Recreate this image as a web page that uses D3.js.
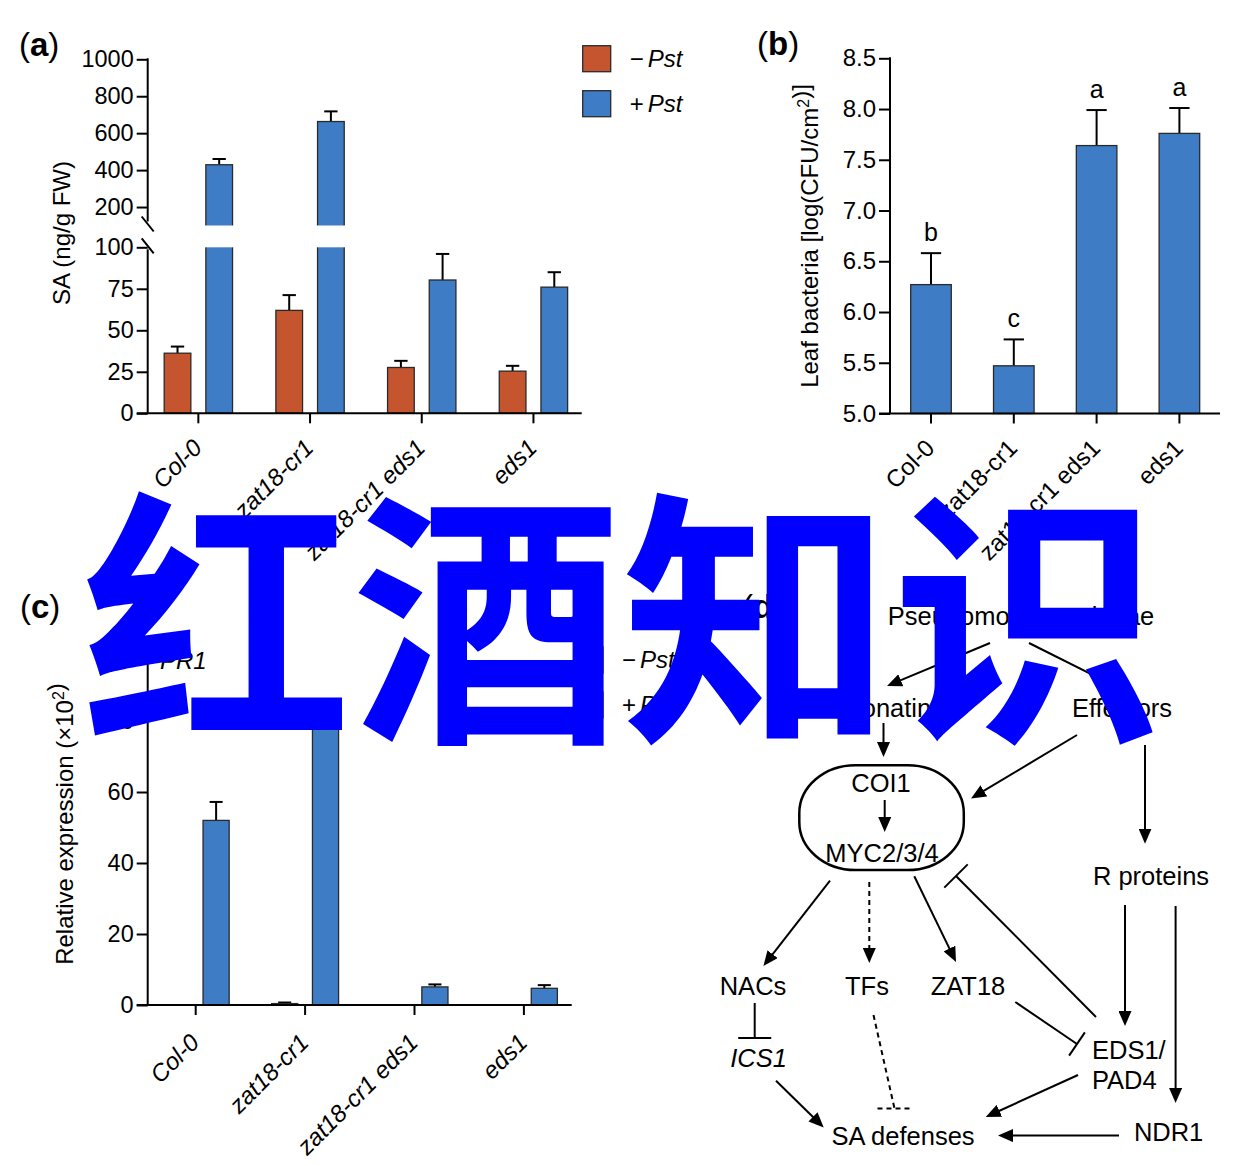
<!DOCTYPE html>
<html>
<head>
<meta charset="utf-8">
<title>SA, bacterial growth and PR1 in zat18 mutants</title>
<script src="https://cdn.jsdelivr.net/npm/d3@7"></script>
<style>
  body { margin: 0; background: #fff; }
  svg text { font-family: "Liberation Sans", Arial, Helvetica, sans-serif; fill: #000; }
</style>
</head>
<body>
<div id="fig"></div>
<script>
// genotypes shared by the three bar charts
var genotypes = ["Col-0", "zat18-cr1", "zat18-cr1 eds1", "eds1"];
var treatments = ["-Pst", "+Pst"];

// (a) SA content (ng/g FW)
var saMock = [36.2, 62, 27.6, 25.4];
var saMockErr = [4, 9.2, 4, 3.2];
var saPst = [429, 663, 80.3, 76];
var saPstErr = [31, 55, 15.7, 9];
var saTicksLow = [0, 25, 50, 75, 100];
var saTicksHigh = [200, 400, 600, 800, 1000];

// (b) leaf bacteria, log(CFU/cm2)
var bactMean = [6.27, 5.47, 7.64, 7.76];
var bactErr = [0.31, 0.26, 0.35, 0.25];
var bactLetters = ["b", "c", "a", "a"];
var bactTicks = [5.0, 5.5, 6.0, 6.5, 7.0, 7.5, 8.0, 8.5];

// (c) PR1 relative expression (x10^2)
var pr1Mock = [0, 0.4, 0, 0];
var pr1MockErr = [0, 0.3, 0, 0];
var pr1Pst = [52, 84, 5.1, 4.7];
var pr1PstErr = [5.2, 2, 0.7, 0.9];
var pr1Ticks = [0, 20, 40, 60, 80, 100];

var RED = "#C5552F", BLUE = "#3E7DC5", EDGE = "#2a2a2a";

var svg = d3.select("#fig").append("svg")
    .attr("width", 1245).attr("height", 1166);

function styleAxis(sel, size) {
    sel.attr("font-size", null).attr("font-family", null);
    sel.select(".domain").remove();
    sel.selectAll(".tick line").attr("stroke", "#000").attr("stroke-width", 2);
    sel.selectAll(".tick text").attr("font-size", size).attr("fill", "#000");
}

function vline(g, x, y1, y2) {
    g.append("line").attr("x1", x).attr("x2", x).attr("y1", y1).attr("y2", y2)
        .attr("stroke", "#000").attr("stroke-width", 2);
}
function hline(g, x1, x2, y) {
    g.append("line").attr("x1", x1).attr("x2", x2).attr("y1", y).attr("y2", y)
        .attr("stroke", "#000").attr("stroke-width", 2);
}

function errBar(g, xc, yTop, yCap, half) {
    vline(g, xc, yTop, yCap);
    hline(g, xc - half, xc + half, yCap);
}

function xAxisBottom(g, x0, axisX, y0, xEnd, dx, dy, italic) {
    hline(g, axisX - 11, xEnd, y0);
    genotypes.forEach(function (d) {
        var cx = x0(d) + x0.bandwidth() / 2;
        vline(g, cx, y0, y0 + 10);
        g.append("text")
            .attr("transform", "translate(" + (cx + dx) + "," + (y0 + dy) + ") rotate(-45)")
            .attr("text-anchor", "end")
            .attr("font-size", 24)
            .attr("font-style", italic ? "italic" : "normal")
            .text(d);
    });
}

function panelTag(x, y, letter) {
    var t = svg.append("text").attr("x", x).attr("y", y).attr("font-size", 33);
    t.append("tspan").text("(");
    t.append("tspan").attr("font-weight", "bold").text(letter);
    t.append("tspan").text(")");
}

function yTitle(x, y, parts) {
    var t = svg.append("text")
        .attr("transform", "translate(" + x + "," + y + ") rotate(-90)")
        .attr("text-anchor", "middle").attr("dy", "0.35em").attr("font-size", 24);
    parts.forEach(function (p) {
        if (p.sup) {
            t.append("tspan").attr("dy", -9).attr("font-size", 16).text(p.sup);
            t.append("tspan").attr("dy", 9).text("");
        } else {
            t.append("tspan").text(p.t);
        }
    });
}

function legend(x, y, gap) {
    [RED, BLUE].forEach(function (c, i) {
        svg.append("rect").attr("x", x).attr("y", y + i * gap).attr("width", 28).attr("height", 26)
            .attr("fill", c).attr("stroke", EDGE).attr("stroke-width", 1.3);
        var t = svg.append("text").attr("x", x + 47).attr("y", y + i * gap + 13)
            .attr("dy", "0.35em").attr("font-size", 24);
        t.append("tspan").text(i === 0 ? "\u2212" : "+");
        t.append("tspan").attr("dx", 4).attr("font-style", "italic").text("Pst");
    });
}

// ---------------- (a) SA ----------------
(function () {
    var g = svg.append("g");
    var axisX = 147.7;
    var x0 = d3.scaleBand().domain(genotypes).range([142.5, 589.3]);
    var x1 = d3.scaleBand().domain(treatments).range([0, x0.bandwidth()])
        .paddingInner(0.36).paddingOuter(0.52);
    var yLo = d3.scaleLinear().domain([0, 100]).range([413.3, 247.3]);
    var yHi = d3.scaleLinear().domain([100, 1000]).range([225.5, 59.3]);
    function ySA(v) { return v <= 100 ? yLo(v) : yHi(v); }

    var rows = [];
    genotypes.forEach(function (d, i) {
        rows.push({ g: d, t: "-Pst", v: saMock[i], e: saMockErr[i], c: RED });
        rows.push({ g: d, t: "+Pst", v: saPst[i], e: saPstErr[i], c: BLUE });
    });
    var bw = x1.bandwidth();
    rows.forEach(function (r) {
        var xl = x0(r.g) + x1(r.t);
        errBar(g, xl + bw / 2, ySA(r.v), ySA(r.v + r.e), bw / 4);
        g.append("rect").attr("x", xl).attr("y", ySA(r.v)).attr("width", bw)
            .attr("height", yLo(0) - ySA(r.v))
            .attr("fill", r.c).attr("stroke", EDGE).attr("stroke-width", 1.3);
        if (r.v > 100) {
            g.append("rect").attr("x", xl - 2).attr("y", yHi(100)).attr("width", bw + 4)
                .attr("height", yLo(100) - yHi(100)).attr("fill", "#fff");
        }
    });

    var aHi = g.append("g").attr("transform", "translate(" + axisX + ",0)")
        .call(d3.axisLeft(yHi).tickValues(saTicksHigh).tickSize(11).tickPadding(3)
            .tickFormat(d3.format("d")));
    styleAxis(aHi, 23.5);
    var aLo = g.append("g").attr("transform", "translate(" + axisX + ",0)")
        .call(d3.axisLeft(yLo).tickValues(saTicksLow).tickSize(11).tickPadding(3)
            .tickFormat(d3.format("d")));
    styleAxis(aLo, 23.5);
    vline(g, axisX, yHi(1000) - 1, yHi(100) - 4);
    vline(g, axisX, yLo(100) + 2, yLo(0));
    // axis break marks
    [yHi(100) - 1, yLo(100) - 1].forEach(function (yy) {
        g.append("line").attr("x1", axisX - 6).attr("y1", yy - 8).attr("x2", axisX + 6).attr("y2", yy + 7)
            .attr("stroke", "#000").attr("stroke-width", 2);
    });
    xAxisBottom(g, x0, axisX, yLo(0), 581.7, 5, 36, true);
    legend(582.7, 45.7, 45);
})();

// ---------------- (b) bacteria ----------------
(function () {
    var g = svg.append("g");
    var axisX = 890;
    var x0 = d3.scaleBand().domain(genotypes).range([889.6, 1220.8])
        .paddingInner(0.51).paddingOuter(0.255);
    var y = d3.scaleLinear().domain([5, 8.5]).range([413.5, 58.3]);
    var bw = x0.bandwidth();
    genotypes.forEach(function (d, i) {
        var xl = x0(d), cap = y(bactMean[i] + bactErr[i]);
        errBar(g, xl + bw / 2, y(bactMean[i]), cap, bw / 4);
        g.append("rect").attr("x", xl).attr("y", y(bactMean[i])).attr("width", bw)
            .attr("height", y(5) - y(bactMean[i]))
            .attr("fill", BLUE).attr("stroke", EDGE).attr("stroke-width", 1.3);
        g.append("text").attr("x", xl + bw / 2).attr("y", cap - 12.5)
            .attr("text-anchor", "middle").attr("font-size", 25).text(bactLetters[i]);
    });
    var ax = g.append("g").attr("transform", "translate(" + axisX + ",0)")
        .call(d3.axisLeft(y).tickValues(bactTicks).tickSize(11).tickPadding(3)
            .tickFormat(d3.format(".1f")));
    styleAxis(ax, 24);
    vline(g, axisX, y(8.5) - 1, y(5));
    xAxisBottom(g, x0, axisX, y(5), 1220, 5, 36, false);
})();

// ---------------- (c) PR1 ----------------
(function () {
    var g = svg.append("g");
    var axisX = 147.7;
    var x0 = d3.scaleBand().domain(genotypes).range([141, 578.6]);
    var x1 = d3.scaleBand().domain(treatments).range([0, x0.bandwidth()])
        .paddingInner(0.36).paddingOuter(0.52);
    var y = d3.scaleLinear().domain([0, 100]).range([1005, 650]);
    var bw = x1.bandwidth();
    genotypes.forEach(function (d, i) {
        [[pr1Mock, pr1MockErr, RED, "-Pst"], [pr1Pst, pr1PstErr, BLUE, "+Pst"]].forEach(function (s) {
            var v = s[0][i], e = s[1][i], xl = x0(d) + x1(s[3]);
            if (v <= 0) return;
            errBar(g, xl + bw / 2, y(v), y(v + e), bw / 4);
            g.append("rect").attr("x", xl).attr("y", y(v)).attr("width", bw)
                .attr("height", y(0) - y(v))
                .attr("fill", s[2]).attr("stroke", EDGE).attr("stroke-width", 1.3);
        });
    });
    var ax = g.append("g").attr("transform", "translate(" + axisX + ",0)")
        .call(d3.axisLeft(y).tickValues(pr1Ticks).tickSize(11).tickPadding(3));
    styleAxis(ax, 23.5);
    vline(g, axisX, y(100) - 1, y(0));
    xAxisBottom(g, x0, axisX, y(0), 571.7, 5, 39, true);
    g.append("text").attr("x", 160).attr("y", 661).attr("dy", "0.35em")
        .attr("font-size", 24).attr("font-style", "italic").text("PR1");
    legend(575, 647, 45);
})();

// ---------------- titles ----------------
panelTag(19, 56, "a");
panelTag(757, 55, "b");
panelTag(20, 618, "c");
panelTag(742, 618, "d");
yTitle(62, 233, [{ t: "SA (ng/g FW)" }]);
yTitle(810, 236, [{ t: "Leaf bacteria [log(CFU/cm" }, { sup: "2" }, { t: ")]" }]);
yTitle(65, 824, [{ t: "Relative expression (\u00d710" }, { sup: "2" }, { t: ")" }]);

// ---------------- (d) model ----------------
var nodeLabels = [
    { t: "Pseudomonas syringae", x: 1021, y: 616 },
    { t: "Coronatine", x: 883, y: 708 },
    { t: "Effectors", x: 1122, y: 708 },
    { t: "COI1", x: 881, y: 783 },
    { t: "MYC2/3/4", x: 882, y: 853 },
    { t: "R proteins", x: 1151, y: 876 },
    { t: "NACs", x: 753, y: 986 },
    { t: "TFs", x: 867, y: 986 },
    { t: "ZAT18", x: 968, y: 986 },
    { t: "ICS1", x: 758.5, y: 1058.5, it: true },
    { t: "EDS1/", x: 1092, y: 1050.4, start: true },
    { t: "PAD4", x: 1092, y: 1080, start: true },
    { t: "SA defenses", x: 903, y: 1135.6 },
    { t: "NDR1", x: 1168.6, y: 1132 }
];
var links = [
    { x1: 990, y1: 643, x2: 887, y2: 686, kind: "arrow" },
    { x1: 1029, y1: 643, x2: 1117, y2: 687, kind: "arrow" },
    { x1: 883.5, y1: 723, x2: 883.5, y2: 757, kind: "arrow" },
    { x1: 1077, y1: 735, x2: 971, y2: 798.5, kind: "arrow" },
    { x1: 1145, y1: 745, x2: 1145, y2: 843.7, kind: "arrow" },
    { x1: 884.7, y1: 800, x2: 884.7, y2: 832, kind: "arrow" },
    { x1: 830, y1: 880.7, x2: 763.4, y2: 966, kind: "arrow" },
    { x1: 869.3, y1: 882, x2: 869.3, y2: 963, kind: "arrow", dash: true },
    { x1: 914.3, y1: 876.3, x2: 956, y2: 962, kind: "arrow" },
    { x1: 1096, y1: 1017, x2: 956, y2: 876, kind: "bar", len: 33 },
    { x1: 1125, y1: 905, x2: 1125, y2: 1026, kind: "arrow" },
    { x1: 1175.6, y1: 906, x2: 1175.6, y2: 1103, kind: "arrow" },
    { x1: 754.7, y1: 1003, x2: 754.7, y2: 1038, kind: "bar", len: 33 },
    { x1: 1015.3, y1: 1002, x2: 1077, y2: 1044, kind: "bar", len: 28 },
    { x1: 873.5, y1: 1015, x2: 894.5, y2: 1108.5, kind: "bar", len: 34, dash: true, flat: true },
    { x1: 776, y1: 1080.7, x2: 823.7, y2: 1127.4, kind: "arrow" },
    { x1: 1078, y1: 1075, x2: 985.7, y2: 1117, kind: "arrow" },
    { x1: 1119, y1: 1135.6, x2: 998, y2: 1135.6, kind: "arrow" }
];

svg.append("defs").append("marker").attr("id", "head")
    .attr("viewBox", "0 0 15 13").attr("refX", 9).attr("refY", 6.5)
    .attr("markerWidth", 15).attr("markerHeight", 13)
    .attr("markerUnits", "userSpaceOnUse").attr("orient", "auto")
    .append("path").attr("d", "M0,0L15,6.5L0,13Z").attr("fill", "#000");

var dg = svg.append("g");
dg.append("rect").attr("x", 799.3).attr("y", 765.2).attr("width", 164.5).attr("height", 104.8)
    .attr("rx", 56).attr("ry", 48).attr("fill", "none").attr("stroke", "#000").attr("stroke-width", 2.5);

links.forEach(function (l) {
    var dx = l.x2 - l.x1, dy = l.y2 - l.y1, len = Math.sqrt(dx * dx + dy * dy);
    var ux = dx / len, uy = dy / len;
    var ex = l.x2, ey = l.y2;
    if (l.kind === "arrow") { ex -= ux * 6; ey -= uy * 6; }
    var ln = dg.append("line").attr("x1", l.x1).attr("y1", l.y1).attr("x2", ex).attr("y2", ey)
        .attr("stroke", "#000").attr("stroke-width", 2);
    if (l.dash) ln.attr("stroke-dasharray", "5,4");
    if (l.kind === "arrow") {
        ln.attr("marker-end", "url(#head)");
    } else {
        var px = l.flat ? 1 : -uy, py = l.flat ? 0 : ux, h = l.len / 2;
        var b = dg.append("line")
            .attr("x1", l.x2 - px * h).attr("y1", l.y2 - py * h)
            .attr("x2", l.x2 + px * h).attr("y2", l.y2 + py * h)
            .attr("stroke", "#000").attr("stroke-width", 2);
        if (l.dash) b.attr("stroke-dasharray", "5,4");
    }
});

dg.selectAll("text.node").data(nodeLabels).join("text")
    .attr("x", function (d) { return d.x; }).attr("y", function (d) { return d.y; })
    .attr("dy", "0.35em").attr("font-size", 25.5)
    .attr("text-anchor", function (d) { return d.start ? "start" : "middle"; })
    .attr("font-style", function (d) { return d.it ? "italic" : "normal"; })
    .text(function (d) { return d.t; });

// overlaid watermark
svg.append("text").attr("x", 82).attr("y", 722)
    .style("font-family", "'Noto Sans CJK SC', sans-serif")
    .attr("font-weight", "bold").attr("font-size", 270)
    .style("fill", "#0000FF").text("红酒知识");
</script>
</body>
</html>
